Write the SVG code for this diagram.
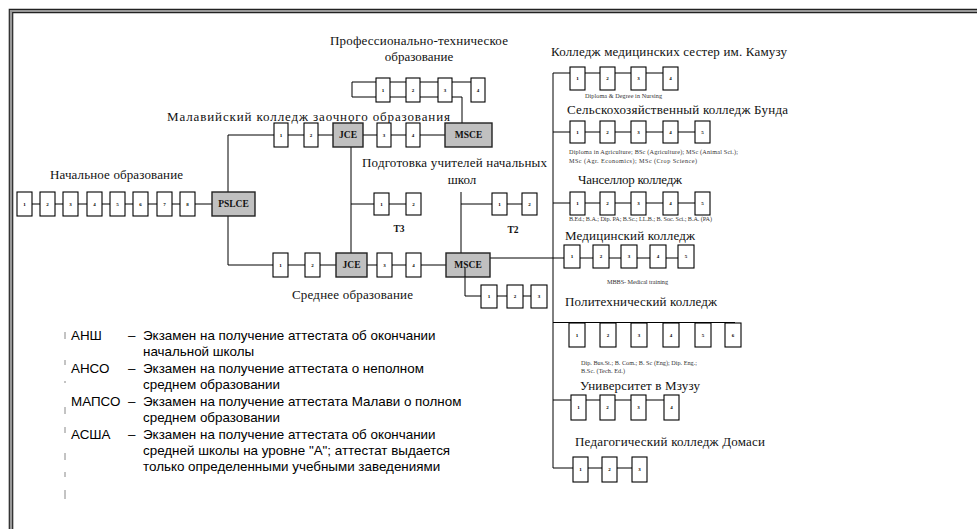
<svg xmlns="http://www.w3.org/2000/svg" width="977" height="529" viewBox="0 0 977 529">
<style>
.bx{fill:#fff;stroke:#000;stroke-width:1.1}
.gb{fill:#c0c0c0;stroke:#222;stroke-width:1.4}
.n{font-family:"Liberation Serif",serif;font-weight:bold;font-size:5px;text-anchor:middle;fill:#000}
.g{font-family:"Liberation Serif",serif;font-weight:bold;font-size:9.5px;text-anchor:middle;fill:#111}
.t{font-family:"Liberation Serif",serif;font-size:13px;fill:#111}
.tm{font-family:"Liberation Serif",serif;font-size:13px;fill:#111;text-anchor:middle}
.s{font-family:"Liberation Serif",serif;font-size:6.2px;fill:#333}
.l{font-family:"Liberation Sans",sans-serif;font-size:13.4px;fill:#000}
.c{fill:none;stroke:#000;stroke-width:1}
.tk{stroke:#888;stroke-width:1}
</style>
<rect width="977" height="529" fill="#fff"/>
<g id="frame">
<path d="M977,11 H11 V529" fill="none" stroke="#999" stroke-width="2.5"/>
<path d="M977,9.3 H9.3 V529" fill="none" stroke="#222" stroke-width="1.2"/>
<path d="M977,12.7 H12.7 V529" fill="none" stroke="#222" stroke-width="1.2"/>
</g>
<g id="connectors" class="c">
<path d="M20,204 H212"/>
<path d="M228,192 V135 H445"/>
<path d="M228,216 V265 H446"/>
<path d="M351,120 V253"/>
<path d="M351,204 H421"/>
<path d="M462,123 V97 H352 V82 H478"/>
<path d="M461,192 V253"/>
<path d="M461,204 H530"/>
<path d="M490,258 H686"/>
<path d="M465,268 V296 H540"/>
<path d="M553,73 V468"/>
<path d="M553,73 H670"/>
<path d="M553,132 H702"/>
<path d="M553,203 H702"/>
<path d="M553,322.5 H735"/>
<path d="M553,400 H671"/>
<path d="M553,468 H640"/>
</g>
<g id="primary-title"><text class="t" x="50" y="179" textLength="133">Начальное образование</text></g>
<g id="p1"><rect class="bx" x="17" y="192" width="15" height="24"/><text class="n" x="24.5" y="206">1</text></g>
<g id="p2"><rect class="bx" x="40" y="192" width="15" height="24"/><text class="n" x="47.5" y="206">2</text></g>
<g id="p3"><rect class="bx" x="63" y="192" width="15" height="24"/><text class="n" x="70.5" y="206">3</text></g>
<g id="p4"><rect class="bx" x="87" y="192" width="15" height="24"/><text class="n" x="94.5" y="206">4</text></g>
<g id="p5"><rect class="bx" x="110" y="192" width="15" height="24"/><text class="n" x="117.5" y="206">5</text></g>
<g id="p6"><rect class="bx" x="133" y="192" width="15" height="24"/><text class="n" x="140.5" y="206">6</text></g>
<g id="p7"><rect class="bx" x="157" y="192" width="15" height="24"/><text class="n" x="164.5" y="206">7</text></g>
<g id="p8"><rect class="bx" x="180" y="192" width="15" height="24"/><text class="n" x="187.5" y="206">8</text></g>
<g id="pslce"><rect class="gb" x="212" y="192" width="43" height="24"/><text class="g" x="233.5" y="207">PSLCE</text></g>

<g id="distance-title"><text class="t" x="167" y="121" textLength="283">Малавийский колледж заочного образования</text></g>
<g id="u1"><rect class="bx" x="274" y="123" width="14" height="24"/><text class="n" x="281" y="137">1</text></g>
<g id="u2"><rect class="bx" x="304" y="123" width="14" height="24"/><text class="n" x="311" y="137">2</text></g>
<g id="ujce"><rect class="gb" x="333" y="123" width="30" height="24"/><text class="g" x="348" y="138">JCE</text></g>
<g id="u3"><rect class="bx" x="377" y="123" width="14" height="24"/><text class="n" x="384" y="137">3</text></g>
<g id="u4"><rect class="bx" x="406" y="123" width="14" height="24"/><text class="n" x="413" y="137">4</text></g>
<g id="umsce"><rect class="gb" x="445" y="123" width="47" height="24"/><text class="g" x="468.5" y="138">MSCE</text></g>

<g id="voc-title"><text class="tm" x="419" y="45" textLength="178">Профессионально-техническое</text><text class="tm" x="419" y="61">образование</text></g>
<g id="v1"><rect class="bx" x="376" y="78" width="14" height="24"/><text class="n" x="383" y="92">1</text></g>
<g id="v2"><rect class="bx" x="406" y="78" width="14" height="24"/><text class="n" x="413" y="92">2</text></g>
<g id="v3"><rect class="bx" x="438" y="78" width="14" height="24"/><text class="n" x="445" y="92">3</text></g>
<g id="v4"><rect class="bx" x="471" y="78" width="14" height="24"/><text class="n" x="478" y="92">4</text></g>

<g id="teacher-title"><text class="t" x="362" y="167" textLength="185">Подготовка учителей начальных</text><text class="tm" x="462" y="184">школ</text></g>
<g id="t3a"><rect class="bx" x="374" y="193" width="15" height="22"/><text class="n" x="381.5" y="206">1</text></g>
<g id="t3b"><rect class="bx" x="406" y="193" width="15" height="22"/><text class="n" x="413.5" y="206">2</text></g>
<g id="t3"><text class="g" x="399" y="232">T3</text></g>
<g id="t2a"><rect class="bx" x="492" y="193" width="15" height="22"/><text class="n" x="499.5" y="206">1</text></g>
<g id="t2b"><rect class="bx" x="522" y="193" width="15" height="22"/><text class="n" x="529.5" y="206">2</text></g>
<g id="t2"><text class="g" x="513" y="233">T2</text></g>

<g id="l1"><rect class="bx" x="273" y="253" width="15" height="24"/><text class="n" x="280.5" y="267">1</text></g>
<g id="l2"><rect class="bx" x="305" y="253" width="15" height="24"/><text class="n" x="312.5" y="267">2</text></g>
<g id="ljce"><rect class="gb" x="336" y="253" width="31" height="24"/><text class="g" x="351.5" y="268">JCE</text></g>
<g id="l3"><rect class="bx" x="377" y="253" width="15" height="24"/><text class="n" x="384.5" y="267">3</text></g>
<g id="l4"><rect class="bx" x="406" y="253" width="15" height="24"/><text class="n" x="413.5" y="267">4</text></g>
<g id="lmsce"><rect class="gb" x="446" y="253" width="44" height="24"/><text class="g" x="468" y="268">MSCE</text></g>
<path d="M465,268 V277" class="c"/>
<g id="secondary-title"><text class="t" x="292" y="299" textLength="121">Среднее образование</text></g>
<g id="s1"><rect class="bx" x="481" y="285" width="16" height="23"/><text class="n" x="489" y="298">1</text></g>
<g id="s2"><rect class="bx" x="507" y="285" width="16" height="23"/><text class="n" x="515" y="298">2</text></g>
<g id="s3"><rect class="bx" x="531" y="285" width="16" height="23"/><text class="n" x="539" y="298">3</text></g>

<g id="nursing">
<text class="t" x="551" y="56" textLength="236">Колледж медицинских сестер им. Камузу</text>
<rect class="bx" x="570" y="67" width="15" height="23"/><text class="n" x="577.5" y="80">1</text>
<rect class="bx" x="600" y="67" width="15" height="23"/><text class="n" x="607.5" y="80">2</text>
<rect class="bx" x="631" y="67" width="15" height="23"/><text class="n" x="638.5" y="80">3</text>
<rect class="bx" x="663" y="67" width="15" height="23"/><text class="n" x="670.5" y="80">4</text>
<text class="s" x="585" y="98" textLength="77">Diploma &amp; Degree in Nursing</text>
</g>
<g id="bunda">
<text class="t" x="567" y="114" textLength="221">Сельскохозяйственный колледж Бунда</text>
<rect class="bx" x="570" y="121" width="15" height="22"/><text class="n" x="577.5" y="134">1</text>
<rect class="bx" x="600" y="121" width="15" height="22"/><text class="n" x="607.5" y="134">2</text>
<rect class="bx" x="631" y="121" width="15" height="22"/><text class="n" x="638.5" y="134">3</text>
<rect class="bx" x="663" y="121" width="15" height="22"/><text class="n" x="670.5" y="134">4</text>
<rect class="bx" x="695" y="121" width="15" height="22"/><text class="n" x="702.5" y="134">5</text>
<text class="s" x="569" y="154" textLength="169">Diploma in Agriculture; BSc (Agriculture); MSc (Animal Sci.);</text>
<text class="s" x="569" y="163" textLength="128">MSc (Agr. Economics); MSc (Crop Science)</text>
</g>
<g id="chancellor">
<text class="t" x="578" y="184" textLength="104">Чанселлор колледж</text>
<rect class="bx" x="570" y="192" width="15" height="23"/><text class="n" x="577.5" y="205">1</text>
<rect class="bx" x="600" y="192" width="15" height="23"/><text class="n" x="607.5" y="205">2</text>
<rect class="bx" x="631" y="192" width="15" height="23"/><text class="n" x="638.5" y="205">3</text>
<rect class="bx" x="663" y="192" width="15" height="23"/><text class="n" x="670.5" y="205">4</text>
<rect class="bx" x="695" y="192" width="15" height="23"/><text class="n" x="702.5" y="205">5</text>
<text class="s" x="569" y="221" textLength="143">B.Ed.; B.A.; Dip. PA; B.Sc.; LL.B.; B. Soc. Sci.; B.A. (PA)</text>
</g>
<g id="medical">
<text class="t" x="565" y="240" textLength="130">Медицинский колледж</text>
<rect class="bx" x="564" y="245" width="16" height="23"/><text class="n" x="572" y="258">1</text>
<rect class="bx" x="593" y="245" width="16" height="23"/><text class="n" x="601" y="258">2</text>
<rect class="bx" x="621" y="245" width="16" height="23"/><text class="n" x="629" y="258">3</text>
<rect class="bx" x="650" y="245" width="16" height="23"/><text class="n" x="658" y="258">4</text>
<rect class="bx" x="678" y="245" width="16" height="23"/><text class="n" x="686" y="258">5</text>
<text class="s" x="607" y="284" textLength="61">MBBS- Medical training</text>
</g>
<g id="polytechnic">
<text class="t" x="565" y="306" textLength="152">Политехнический колледж</text>
<rect class="bx" x="569" y="323" width="16" height="24"/><text class="n" x="577" y="337">1</text>
<rect class="bx" x="600" y="323" width="16" height="24"/><text class="n" x="608" y="337">2</text>
<rect class="bx" x="631" y="323" width="16" height="24"/><text class="n" x="639" y="337">3</text>
<rect class="bx" x="663" y="323" width="16" height="24"/><text class="n" x="671" y="337">4</text>
<rect class="bx" x="695" y="323" width="16" height="24"/><text class="n" x="703" y="337">5</text>
<rect class="bx" x="725" y="323" width="16" height="24"/><text class="n" x="733" y="337">6</text>
<text class="s" x="581" y="365" textLength="116">Dip. Bus.St.; B. Com.; B. Sc (Eng); Dip. Eng.;</text>
<text class="s" x="581" y="373" textLength="44">B.Sc. (Tech. Ed.)</text>
</g>
<g id="mzuzu">
<text class="t" x="580" y="390" textLength="120">Университет в Мзузу</text>
<rect class="bx" x="571" y="395" width="15" height="25"/><text class="n" x="578.5" y="409">1</text>
<rect class="bx" x="600" y="395" width="15" height="25"/><text class="n" x="607.5" y="409">2</text>
<rect class="bx" x="631" y="395" width="15" height="25"/><text class="n" x="638.5" y="409">3</text>
<rect class="bx" x="664" y="395" width="15" height="25"/><text class="n" x="671.5" y="409">4</text>
</g>
<g id="domasi">
<text class="t" x="575" y="446" textLength="190">Педагогический колледж Домаси</text>
<rect class="bx" x="573" y="457" width="15" height="25"/><text class="n" x="580.5" y="471">1</text>
<rect class="bx" x="602" y="457" width="15" height="25"/><text class="n" x="609.5" y="471">2</text>
<rect class="bx" x="632" y="457" width="15" height="25"/><text class="n" x="639.5" y="471">3</text>
</g>
<g id="legend">
<path class="tk" d="M65,332 V339 M65,360 V365 M65,381 V383 M65,407 V414 M65,427 V433 M65,453 V460 M65,472 V477 M65,490 V499"/>
<text class="l" x="71" y="339.5">АНШ</text><text class="l" x="128" y="339.5">–</text>
<text class="l" x="143" y="339.5">Экзамен на получение аттестата об окончании</text>
<text class="l" x="143" y="356">начальной школы</text>
<text class="l" x="71" y="372.5">АНСО</text><text class="l" x="128" y="372.5">–</text>
<text class="l" x="143" y="372.5">Экзамен на получение аттестата о неполном</text>
<text class="l" x="143" y="389">среднем образовании</text>
<text class="l" x="71" y="405.5">МАПСО</text><text class="l" x="128" y="405.5">–</text>
<text class="l" x="143" y="405.5">Экзамен на получение  аттестата Малави о полном</text>
<text class="l" x="143" y="422">среднем образовании</text>
<text class="l" x="71" y="438.5">АСША</text><text class="l" x="128" y="438.5">–</text>
<text class="l" x="143" y="438.5">Экзамен на получение аттестата об окончании</text>
<text class="l" x="143" y="454.5">средней школы на уровне "А"; аттестат выдается</text>
<text class="l" x="143" y="471">только определенными учебными заведениями</text>
</g>
</svg>
